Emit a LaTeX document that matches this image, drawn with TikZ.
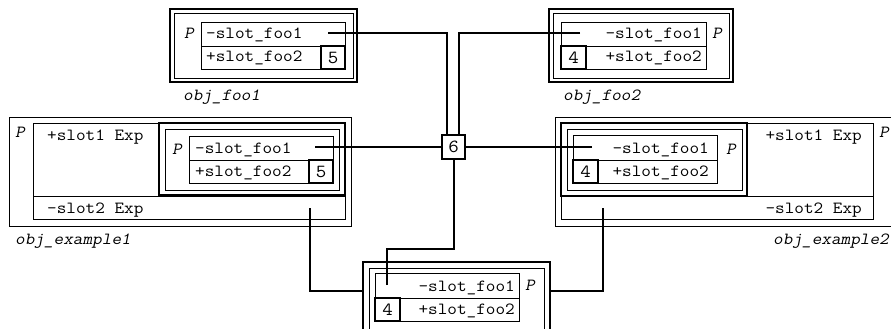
\documentclass[tikz,border=0pt]{standalone}
\usepackage{fontspec}
\newfontfamily\mono[FakeStretch=1.1]{Latin Modern Mono}
\newfontfamily\monoit[FakeStretch=1.1,FakeSlant=0.2]{Latin Modern Mono}
\begin{document}
\begin{tikzpicture}[x=1pt,y=-1pt,
  thin line/.style={line width=0.9pt},
  thick line/.style={line width=2pt},
  wire/.style={line width=2pt},
  txt/.style={inner sep=0pt,font=\mono\fontsize{17}{19}\selectfont},
  ptxt/.style={inner sep=0pt,font=\monoit\fontsize{17}{19}\selectfont},
  numbox/.style={draw,line width=2pt,inner sep=0pt,font=\mono\fontsize{18.5}{20}\selectfont}]
\useasboundingbox (0,0) rectangle (891,329);
\clip (0,0) rectangle (891,329);
% ---------- obj_foo1 ----------
\draw[thick line] (170,9) rectangle (357,82);
\draw[thin line] (174,13) rectangle (353,78);
\draw[thin line] (201,22) rectangle (345,69) (201,46) -- (345,46);
\node[numbox,minimum width=24pt,minimum height=23pt] (f1n) at (333,57.5) {5};
\node[ptxt] (f1p) at (189,33) {P};
\node[txt,anchor=base west] (f1a) at (206,39) {-slot\_foo1};
\node[txt,anchor=base west] (f1b) at (206,62) {+slot\_foo2};
\node[ptxt,anchor=base west] (f1l) at (183,100) {obj\_foo1};
\coordinate (f1s) at (328,33);
% ---------- obj_foo2 ----------
\draw[thick line] (549,9) rectangle (733,82);
\draw[thin line] (553,13) rectangle (729,78);
\draw[thin line] (561,22) rectangle (706,69) (561,46) -- (706,46);
\node[numbox,minimum width=25pt,minimum height=23pt] (f2n) at (573.5,57.5) {4};
\node[ptxt] (f2p) at (717,33) {P};
\node[txt,anchor=base east] (f2a) at (702,39) {-slot\_foo1};
\node[txt,anchor=base east] (f2b) at (702,62) {+slot\_foo2};
\node[ptxt,anchor=base west] (f2l) at (563,100) {obj\_foo2};
\coordinate (f2s) at (580,33);
% ---------- obj_example1 ----------
\draw[thin line] (9,117) rectangle (351,226);
\draw[thin line] (33,123) rectangle (345,219) (33,196) -- (345,196);
\node[ptxt] (e1p) at (20,132) {P};
\node[txt,anchor=base west] (e1a) at (47,140) {+slot1 Exp};
\node[txt,anchor=base west] (e1b) at (47,213) {-slot2 Exp};
\draw[thick line] (159,123) rectangle (345,195);
\draw[thin line] (165,129) rectangle (339,190);
\draw[thin line] (189,136) rectangle (333,183) (189,160) -- (333,160);
\node[numbox,minimum width=24pt,minimum height=23pt] (e1n) at (321,171.5) {5};
\node[ptxt] (e1q) at (177,149) {P};
\node[txt,anchor=base west] (e1c) at (195,153) {-slot\_foo1};
\node[txt,anchor=base west] (e1d) at (195,176) {+slot\_foo2};
\node[ptxt,anchor=base west] (e1l) at (15,244) {obj\_example1};
\coordinate (e1s) at (315,147);
\coordinate (e1t) at (310,208);
% ---------- obj_example2 ----------
\draw[thin line] (555,117) rectangle (897,226);
\draw[thin line] (561,123) rectangle (873,219) (561,196) -- (873,196);
\node[ptxt] (e2p) at (884,132) {P};
\node[txt,anchor=base east] (e2a) at (862,140) {+slot1 Exp};
\node[txt,anchor=base east] (e2b) at (862,213) {-slot2 Exp};
\draw[thick line] (561,123) rectangle (747,196);
\draw[thin line] (567,129) rectangle (742,190);
\draw[thin line] (573,135) rectangle (717,183) (573,160) -- (717,160);
\node[numbox,minimum width=25pt,minimum height=23pt] (e2n) at (585.5,171.5) {4};
\node[ptxt] (e2q) at (731,149) {P};
\node[txt,anchor=base east] (e2c) at (709,153) {-slot\_foo1};
\node[txt,anchor=base east] (e2d) at (709,176) {+slot\_foo2};
\node[ptxt,anchor=base east] (e2l) at (889,244) {obj\_example2};
\coordinate (e2s) at (592,147);
\coordinate (e2t) at (603,208);
% ---------- bottom object ----------
\draw[thick line] (363,262) rectangle (550,345);
\draw[thin line] (369,268) rectangle (544,340);
\draw[thin line] (375,273) rectangle (519,321) (375,298) -- (519,298);
\node[numbox,minimum width=25pt,minimum height=23pt] (bn) at (387.5,309.5) {4};
\node[ptxt] (bp) at (530,285) {P};
\node[txt,anchor=base east] (ba) at (515,291) {-slot\_foo1};
\node[txt,anchor=base east] (bb) at (515,314) {+slot\_foo2};
\coordinate (bs) at (387,285);
\coordinate (bl) at (363,291);
\coordinate (br) at (550,291);
% ---------- junction ----------
\node[numbox,minimum width=23pt,minimum height=24pt,fill=white] (six) at (453.5,147) {6};
% ---------- connectors ----------
\draw[wire] (f1s) -| ([xshift=-6.5pt]six.north);
\draw[wire] (f2s) -| ([xshift=5.5pt]six.north);
\draw[wire] (e1s) -- (six.west);
\draw[wire] (e2s) -- (six.east);
\draw[wire] (bs) -- ++(0,-36) -| (six.south);
\draw[wire] (e1t) |- (bl);
\draw[wire] (e2t) |- (br);
\end{tikzpicture}
\end{document}
